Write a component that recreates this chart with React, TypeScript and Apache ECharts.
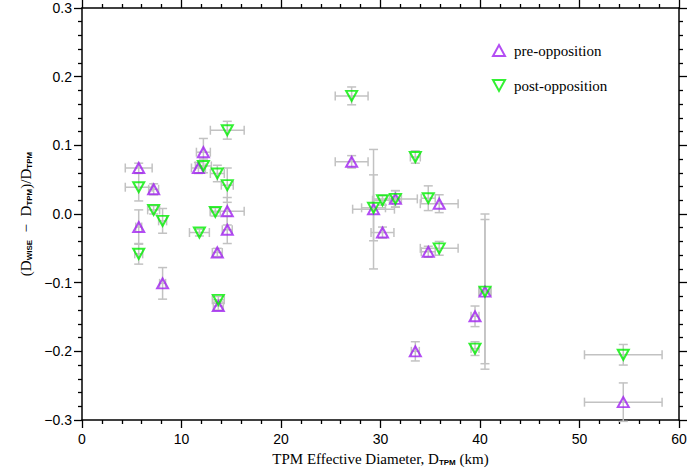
import React, { useEffect, useRef } from "react";
import * as echarts from "echarts";

// Pre-opposition: diameter (km), relative difference, x error, y error
const preX = [5.7, 5.7, 7.2, 8.1, 12.2, 11.7, 14.6, 14.6, 13.6, 13.7, 27.1, 29.3, 30.2, 31.5, 33.5, 34.8, 35.9, 39.5, 40.5, 54.4];
const preY = [0.067, -0.019, 0.036, -0.101, 0.09, 0.067, 0.004, -0.023, -0.056, -0.134, 0.076, 0.007, -0.027, 0.022, -0.2, -0.055, 0.015, -0.149, -0.113, -0.274];
const preXErr = [1.35, 0.3, 0.5, 0.3, 0.7, 0.7, 1.7, 0.5, 0.5, 0.5, 1.65, 2.1, 1.15, 0.6, 0.4, 0.7, 1.9, 0.4, 0.6, 3.9];
const preYErr = [0.007, 0.025, 0.008, 0.023, 0.02, 0.008, 0.02, 0.02, 0.006, 0.006, 0.009, 0.087, 0.008, 0.012, 0.014, 0.008, 0.013, 0.015, 0.113, 0.028];

// Post-opposition
const postX = [5.7, 5.7, 7.2, 8.1, 12.2, 13.6, 14.6, 14.6, 13.4, 11.8, 13.7, 27.1, 29.3, 30.2, 31.5, 33.5, 34.8, 35.9, 39.5, 40.5, 54.4];
const postY = [0.039, -0.058, 0.006, -0.01, 0.07, 0.059, 0.042, 0.122, 0.003, -0.027, -0.125, 0.172, 0.009, 0.02, 0.022, 0.083, 0.023, -0.05, -0.196, -0.113, -0.205];
const postXErr = [1.35, 0.4, 0.6, 0.4, 0.8, 0.7, 0.6, 1.7, 0.5, 1.0, 0.6, 1.65, 1.2, 1.0, 2.2, 0.5, 0.7, 1.9, 0.4, 0.6, 3.9];
const postYErr = [0.02, 0.015, 0.006, 0.018, 0.01, 0.012, 0.025, 0.013, 0.006, 0.005, 0.005, 0.013, 0.048, 0.007, 0.012, 0.009, 0.018, 0.01, 0.01, 0.105, 0.015];

const xTicks = [0, 10, 20, 30, 40, 50, 60];
const yTicks = [-0.3, -0.2, -0.1, 0.0, 0.1, 0.2, 0.3];

const PRE_COLOR = "#a020f0";
const POST_COLOR = "#00ee00";
const DOWN_TRI = "path://M0,0L10,0L5,9Z";

export default function App() {
  const ref = useRef<HTMLDivElement>(null);
  useEffect(() => {
    if (!ref.current) return;
    const chart = echarts.init(ref.current, undefined, { renderer: "svg" });
    const errData = [
      ...preX.map((x, i) => [x, preY[i], preXErr[i], preYErr[i]]),
      ...postX.map((x, i) => [x, postY[i], postXErr[i], postYErr[i]]),
    ];
    const errStyle = { stroke: "#c2c2c2", lineWidth: 1.5 };
    const renderErr = (_p: any, api: any) => {
      const x = api.value(0), y = api.value(1), xe = api.value(2), ye = api.value(3);
      const c = api.coord([x, y]);
      const l = api.coord([x - xe, y]);
      const r = api.coord([x + xe, y]);
      const t = api.coord([x, y + ye]);
      const b = api.coord([x, y - ye]);
      const cap = 4.5;
      const ln = (x1: number, y1: number, x2: number, y2: number) => ({
        type: "line",
        shape: { x1, y1, x2, y2 },
        style: errStyle,
      });
      return {
        type: "group",
        children: [
          ln(l[0], c[1], r[0], c[1]),
          ln(l[0], c[1] - cap, l[0], c[1] + cap),
          ln(r[0], c[1] - cap, r[0], c[1] + cap),
          ln(c[0], t[1], c[0], b[1]),
          ln(c[0] - cap, t[1], c[0] + cap, t[1]),
          ln(c[0] - cap, b[1], c[0] + cap, b[1]),
        ],
      };
    };
    const mkAxisLine = () => ({ show: true, onZero: false, lineStyle: { color: "#000", width: 1.5 } });
    const mkTick = (len: number) => ({ show: true, inside: false, length: len, lineStyle: { color: "#000", width: 1.3 } });
    const mkMinor = (len: number) => ({ show: true, splitNumber: 5, length: len, lineStyle: { color: "#000", width: 1.3 } });
    const labelFont = { fontFamily: "Liberation Sans", fontSize: 14, color: "#000" };
    const fmtY = (v: number) => {
      const r = Math.round(v * 10) / 10;
      return (r < 0 ? "\u2212" : "") + Math.abs(r).toFixed(1);
    };
    const titleFont = { fontFamily: "Liberation Serif", fontSize: 15, color: "#000" };
    const subFont = { fontFamily: "Liberation Sans", fontSize: 8, fontWeight: "bold" as const, color: "#000", padding: [7, 0, 0, 0] };
    chart.setOption({
      animation: false,
      grid: { left: 82, right: 12, top: 8, bottom: 56 },
      legend: {
        orient: "vertical",
        left: 487,
        top: 38,
        itemGap: 20,
        itemWidth: 12,
        itemHeight: 11,
        textStyle: { fontFamily: "Liberation Serif", fontSize: 15, color: "#000", padding: [0, 0, 0, 4] },
        data: [
          { name: "pre-opposition", icon: "triangle" },
          { name: "post-opposition", icon: DOWN_TRI },
        ],
      },
      xAxis: [
        {
          type: "value",
          min: xTicks[0],
          max: xTicks[xTicks.length - 1],
          interval: 10,
          axisLine: mkAxisLine(),
          axisTick: mkTick(8),
          minorTick: mkMinor(4),
          splitLine: { show: false },
          axisLabel: { ...labelFont, margin: 12 },
          name: "{a|TPM Effective Diameter, D}{s|TPM}{a| (km)}",
          nameLocation: "middle",
          nameGap: 31,
          nameTextStyle: { rich: { a: titleFont, s: subFont } },
        },
        {
          type: "value",
          position: "top",
          min: xTicks[0],
          max: xTicks[xTicks.length - 1],
          interval: 10,
          axisLine: mkAxisLine(),
          axisTick: mkTick(8),
          minorTick: mkMinor(4),
          splitLine: { show: false },
          axisLabel: { show: false },
        },
      ],
      yAxis: [
        {
          type: "value",
          min: yTicks[0],
          max: yTicks[yTicks.length - 1],
          interval: 0.1,
          axisLine: mkAxisLine(),
          axisTick: mkTick(8),
          minorTick: mkMinor(4),
          splitLine: { show: false },
          axisLabel: { ...labelFont, margin: 10, formatter: fmtY },
          name: "{a|(D}{s|WISE}{a|  \u2212  D}{s|TPM}{a|)/D}{s|TPM}",
          nameLocation: "middle",
          nameRotate: 90,
          nameGap: 44,
          nameTextStyle: { rich: { a: titleFont, s: subFont } },
        },
        {
          type: "value",
          position: "right",
          min: yTicks[0],
          max: yTicks[yTicks.length - 1],
          interval: 0.1,
          axisLine: mkAxisLine(),
          axisTick: mkTick(8),
          minorTick: mkMinor(4),
          splitLine: { show: false },
          axisLabel: { show: false },
        },
      ],
      series: [
        {
          type: "custom",
          name: "errors",
          renderItem: renderErr,
          data: errData,
          encode: { x: 0, y: 1 },
          z: 1,
          silent: true,
        },
        {
          type: "scatter",
          name: "pre-opposition",
          symbol: "triangle",
          symbolSize: [11, 10],
          itemStyle: { color: "rgba(255,255,255,0)", borderColor: PRE_COLOR, borderWidth: 2 },
          data: preX.map((x, i) => [x, preY[i]]),
          z: 3,
        },
        {
          type: "scatter",
          name: "post-opposition",
          symbol: DOWN_TRI,
          symbolSize: [11, 10],
          itemStyle: { color: "rgba(255,255,255,0)", borderColor: POST_COLOR, borderWidth: 2 },
          data: postX.map((x, i) => [x, postY[i]]),
          z: 4,
        },
        {
          type: "scatter",
          name: "frame",
          xAxisIndex: 1,
          yAxisIndex: 1,
          data: [],
          silent: true,
        },
      ],
    });
    return () => chart.dispose();
  }, []);
  return <div ref={ref} style={{ width: 691, height: 476, position: "absolute", left: 0, top: 0 }} />;
}
